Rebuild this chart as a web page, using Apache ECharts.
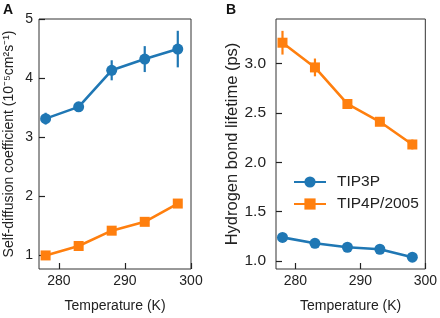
<!DOCTYPE html>
<html>
<head>
<meta charset="utf-8">
<script src="https://cdn.jsdelivr.net/npm/echarts@6/dist/echarts.min.js"></script>
<style>
  html, body { margin: 0; padding: 0; background: #fff; }
  #chart { width: 440px; height: 318px; }
</style>
</head>
<body>
<div id="chart"></div>
<script>
// temperatures (K)
const temps = [278, 283, 288, 293, 298];

// panel A: self-diffusion coefficient (1e-5 cm^2/s)
const diffTip3p = [3.31, 3.51, 4.13, 4.32, 4.49];
const diffTip3pErr = [0.1, 0.07, 0.17, 0.22, 0.31];
const diffTip4p = [0.99, 1.15, 1.41, 1.56, 1.87];
const diffTip4pErr = [0.02, 0.02, 0.02, 0.02, 0.02];

// panel B: hydrogen bond lifetime (ps)
const hbTip3p = [1.24, 1.18, 1.14, 1.12, 1.04];
const hbTip3pErr = [0.01, 0.01, 0.01, 0.01, 0.01];
const hbTip4p = [3.21, 2.96, 2.59, 2.41, 2.18];
const hbTip4pErr = [0.12, 0.09, 0.02, 0.02, 0.05];

const xTicks = [280, 290, 300];
const yTicksA = [1, 2, 3, 4, 5];
const yTicksB = [1.0, 1.5, 2.0, 2.5, 3.0];

const BLUE = "#1f77b4";
const ORANGE = "#ff7f0e";
const FONT = "Liberation Sans";
const INK = "#222";

const pairs = (ys) => temps.map((t, i) => [t, ys[i]]);
const errPairs = (ys, es) => temps.map((t, i) => [t, ys[i], es[i]]);

// vertical error bars drawn through the axis scales
function errorBars(color, ys, es, gi) {
  return {
    type: "custom",
    name: "err" + gi + color,
    xAxisIndex: gi,
    yAxisIndex: gi,
    data: errPairs(ys, es),
    z: 3,
    silent: true,
    renderItem: (params, api) => {
      const x = api.value(0), y = api.value(1), e = api.value(2);
      const lo = api.coord([x, y - e]);
      const hi = api.coord([x, y + e]);
      return {
        type: "line",
        shape: { x1: lo[0], y1: lo[1], x2: hi[0], y2: hi[1] },
        style: { stroke: color, lineWidth: 2.2 },
      };
    },
  };
}

function lineSeries(name, color, symbol, ys, gi) {
  return {
    type: "line",
    name: name,
    xAxisIndex: gi,
    yAxisIndex: gi,
    data: pairs(ys),
    color: color,
    symbol: symbol,
    symbolSize: symbol === "circle" ? 11 : 10,
    showAllSymbol: true,
    lineStyle: { width: 2.6, color: color },
    itemStyle: { color: color },
    z: 4,
  };
}

const xAxisBase = (gi) => ({
  type: "value",
  gridIndex: gi,
  min: 277,
  max: 300,
  name: "Temperature (K)",
  nameLocation: "middle",
  nameGap: 30,
  nameTextStyle: { fontFamily: FONT, fontSize: 14, color: INK },
  axisLine: { show: false },
  splitLine: { show: false },
  axisTick: { inside: true, length: 6, customValues: xTicks, lineStyle: { color: INK, width: 1.2 } },
  axisLabel: { customValues: xTicks, margin: 5, fontFamily: FONT, fontSize: 14, color: INK },
});

const chart = echarts.init(document.getElementById("chart"));

chart.setOption({
  animation: false,
  grid: [
    { left: 39, top: 19, width: 152, height: 254, show: true, borderColor: "#333", borderWidth: 1, backgroundColor: "transparent" },
    { left: 276, top: 19, width: 153, height: 254, show: true, borderColor: "#333", borderWidth: 1, backgroundColor: "transparent" },
  ],
  xAxis: [xAxisBase(0), xAxisBase(1)],
  yAxis: [
    {
      type: "value",
      gridIndex: 0,
      min: 0.76,
      max: 5.0,
      name: "Self-diffusion coefficient (10⁻⁵cm²s⁻¹)",
      nameLocation: "middle",
      nameGap: 23,
      nameTextStyle: { fontFamily: FONT, fontSize: 14, color: INK },
      axisLine: { show: false },
      splitLine: { show: false },
      axisTick: { inside: true, length: 6, customValues: yTicksA, lineStyle: { color: INK, width: 1.2 } },
      axisLabel: { customValues: yTicksA, margin: 6, fontFamily: FONT, fontSize: 14, color: INK },
    },
    {
      type: "value",
      gridIndex: 1,
      min: 0.92,
      max: 3.45,
      name: "Hydrogen bond lifetime (ps)",
      nameLocation: "middle",
      nameGap: 34,
      nameTextStyle: { fontFamily: FONT, fontSize: 16.5, color: INK },
      axisLine: { show: false },
      splitLine: { show: false },
      axisTick: { inside: true, length: 6, customValues: yTicksB, lineStyle: { color: INK, width: 1.2 } },
      axisLabel: {
        customValues: yTicksB,
        margin: 10,
        fontFamily: FONT,
        fontSize: 15.5,
        color: INK,
        formatter: (v) => v.toFixed(1),
      },
    },
  ],
  legend: {
    left: 288,
    top: 169,
    orient: "vertical",
    itemWidth: 32,
    itemHeight: 14,
    itemGap: 6,
    data: ["TIP3P", "TIP4P/2005"],
    textStyle: { fontFamily: FONT, fontSize: 15.5, color: INK, padding: [0, 0, 0, 6] },
  },
  graphic: [
    { type: "text", left: 3, top: 3, style: { text: "A", font: "bold 14px " + FONT, fill: "#111" } },
    { type: "text", left: 226, top: 3, style: { text: "B", font: "bold 14px " + FONT, fill: "#111" } },
  ],
  series: [
    errorBars(BLUE, diffTip3p, diffTip3pErr, 0),
    errorBars(ORANGE, diffTip4p, diffTip4pErr, 0),
    lineSeries("TIP3P", BLUE, "circle", diffTip3p, 0),
    lineSeries("TIP4P/2005", ORANGE, "rect", diffTip4p, 0),
    errorBars(BLUE, hbTip3p, hbTip3pErr, 1),
    errorBars(ORANGE, hbTip4p, hbTip4pErr, 1),
    lineSeries("TIP3P", BLUE, "circle", hbTip3p, 1),
    lineSeries("TIP4P/2005", ORANGE, "rect", hbTip4p, 1),
  ],
});
</script>
</body>
</html>
